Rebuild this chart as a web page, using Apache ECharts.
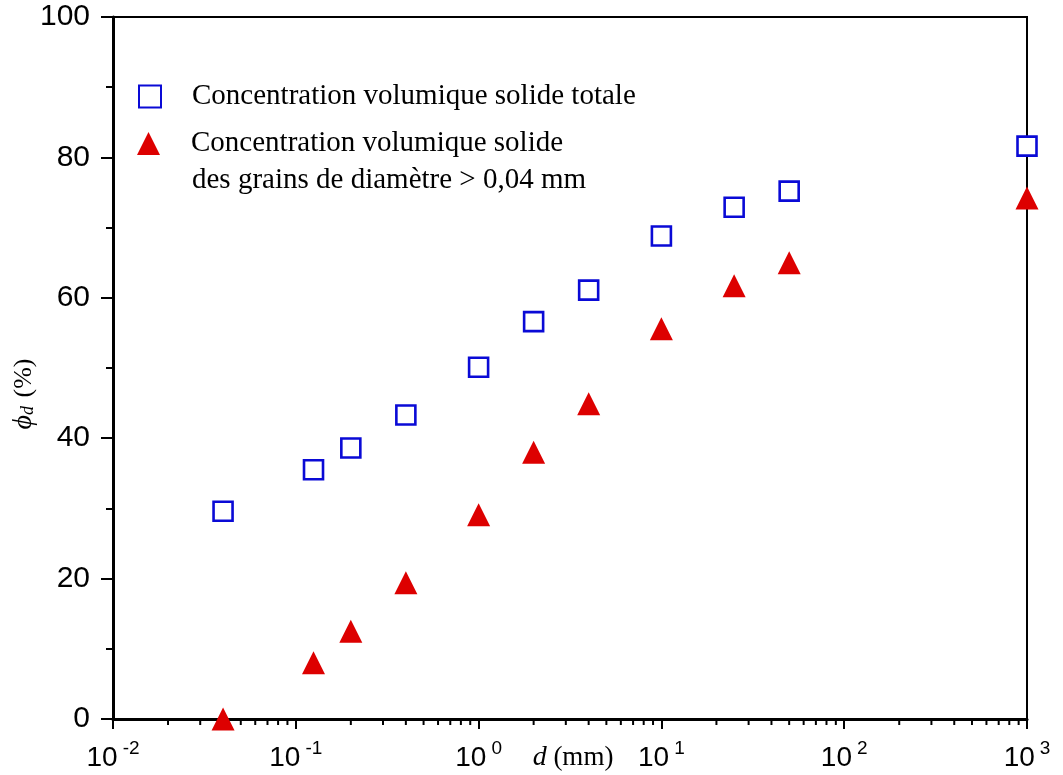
<!DOCTYPE html>
<html><head><meta charset="utf-8">
<script src="https://cdn.jsdelivr.net/npm/echarts@6/dist/echarts.min.js"></script>
<style>html,body{margin:0;padding:0;background:#fff}#c{width:1063px;height:775px}</style>
</head><body><div id="c"></div><script>
const diameters = [0.04, 0.125, 0.2, 0.4, 1, 2, 4, 10, 25, 50, 1000];
const phiTotal = [29.6, 35.5, 38.6, 43.3, 50.1, 56.6, 61.1, 68.8, 72.9, 75.2, 81.6];
const phiCoarse = [0, 8.0, 12.5, 19.4, 29.1, 38.0, 44.9, 55.6, 61.7, 65.0, 74.2];
const seriesNames = ['Concentration volumique solide totale', 'Concentration volumique solide'];
const legendSecondLine = 'des grains de diamètre > 0,04 mm';
const xMin = 0.01, xMax = 1000;

// minor tick positions on the log axis (2..9 in each decade)
const minorTicks = [];
for (let d = xMin; d < xMax; d *= 10) {
  for (let k = 2; k <= 9; k++) minorTicks.push([d * k, 0]);
}

const chart = echarts.init(document.getElementById('c'), null, {renderer: 'canvas'});
const blue = '#0a0ad6', red = '#dd0000';
const serif = '"Liberation Serif", "Times New Roman", serif';
const sans = '"Liberation Sans", Arial, Helvetica, sans-serif';

chart.setOption({
  animation: false,
  backgroundColor: '#fff',
  grid: {left: 113, right: 36, top: 17, bottom: 56, show: true, borderColor: '#000', borderWidth: 2,
    containLabel: false, outerBoundsMode: 'none'},
  xAxis: {
    type: 'log', logBase: 10, min: xMin, max: xMax,
    name: '{i|d} (mm)', nameLocation: 'middle', nameGap: 25, nameMoveOverlap: false,
    nameTextStyle: {fontFamily: serif, fontSize: 27, color: '#000', verticalAlign: 'top', padding: [0, 0, 0, 6],
      rich: {i: {fontFamily: serif, fontStyle: 'italic', fontSize: 28, color: '#000'}}},
    axisLine: {lineStyle: {color: '#000', width: 3}},
    axisTick: {show: true, inside: false, length: 10, lineStyle: {color: '#000', width: 2}},
    splitLine: {show: false},
    minorTick: {show: false},
    axisLabel: {
      margin: 20, color: '#000',
      formatter: function (v) {
        const e = Math.round(Math.log10(v));
        return '{b|10}{s|' + e + '}';
      },
      rich: {
        b: {fontFamily: sans, fontSize: 28, color: '#000'},
        s: {fontFamily: sans, fontSize: 19, color: '#000', padding: [0, 0, 20, 5]}
      }
    }
  },
  yAxis: {
    type: 'value', min: 0, max: 100, interval: 20,
    name: '{i|ϕ}{sub|d} (%)', nameLocation: 'middle', nameGap: 75, nameRotate: 90, nameMoveOverlap: false,
    nameTextStyle: {fontFamily: serif, fontSize: 26, color: '#000', padding: [0, 52, 0, 0],
      rich: {
        i: {fontFamily: serif, fontStyle: 'italic', fontSize: 28, color: '#000'},
        sub: {fontFamily: serif, fontStyle: 'italic', fontSize: 18, color: '#000', padding: [0, 2, -8, 0]}
      }},
    axisLine: {show: true, lineStyle: {color: '#000', width: 3}},
    axisTick: {show: true, inside: false, length: 12, lineStyle: {color: '#000', width: 2}},
    minorTick: {show: true, splitNumber: 2, length: 7, lineStyle: {color: '#000', width: 2}},
    splitLine: {show: false},
    axisLabel: {margin: 23, fontFamily: sans, fontSize: 30, color: '#000'}
  },
  legend: [
    {
      data: [seriesNames[0]], left: 138, top: 82, orient: 'vertical', padding: 0,
      itemWidth: 22, itemHeight: 22, selectedMode: false,
      textStyle: {fontFamily: serif, fontSize: 29, color: '#000', padding: [0, 0, 0, 26]}
    },
    {
      data: [seriesNames[1]], left: 137, top: 129, orient: 'vertical', padding: 0,
      itemWidth: 23, itemHeight: 23, selectedMode: false,
      textStyle: {fontFamily: serif, fontSize: 29, color: '#000', padding: [0, 0, 0, 26]}
    }
  ],
  graphic: [{
    type: 'text', left: 192, top: 166, silent: true,
    style: {text: legendSecondLine, font: '29px ' + serif, fill: '#000'}
  }],
  series: [
    {
      name: seriesNames[0], type: 'scatter', clip: false, z: 3,
      symbol: 'rect', symbolSize: 19,
      itemStyle: {color: '#fff', borderColor: blue, borderWidth: 2.6, opacity: 1},
      data: diameters.map((d, i) => [d, phiTotal[i]])
    },
    {
      name: seriesNames[1], type: 'scatter', clip: false, z: 4,
      symbol: 'triangle', symbolSize: [23, 23],
      itemStyle: {color: red, opacity: 1},
      data: diameters.map((d, i) => [d, phiCoarse[i]])
    },
    {
      name: 'minor', type: 'custom', silent: true, clip: false, z: 2,
      data: minorTicks,
      renderItem: function (params, api) {
        const p = api.coord([api.value(0), 0]);
        return {type: 'line', shape: {x1: p[0], y1: p[1], x2: p[0], y2: p[1] + 6},
          style: {stroke: '#000', lineWidth: 2}};
      }
    }
  ]
});
</script></body></html>
